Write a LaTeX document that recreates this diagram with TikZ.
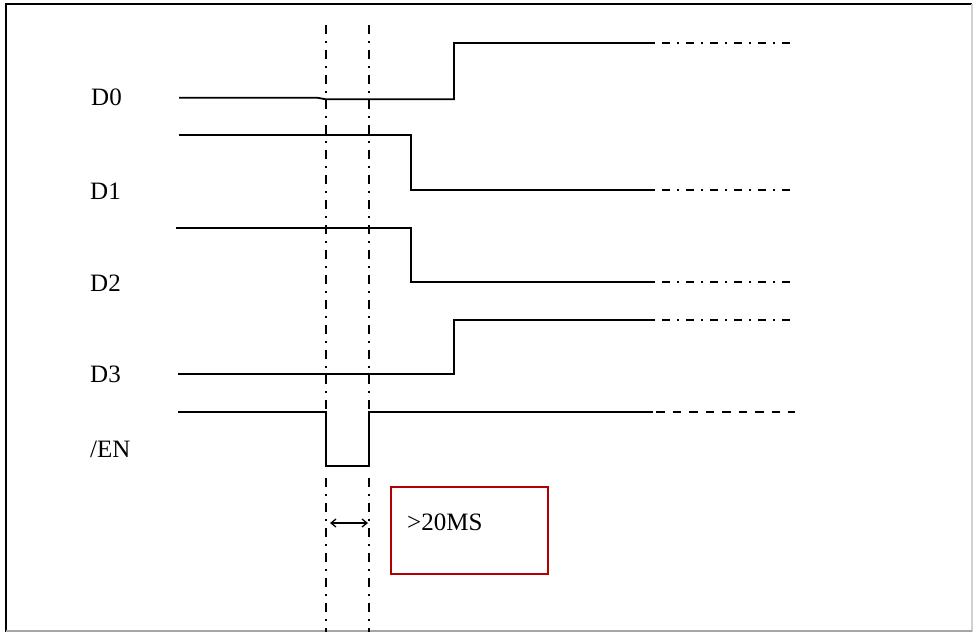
\documentclass[tikz,border=0pt]{standalone}
\usepackage{fontspec}
\setmainfont{Liberation Serif}
\usetikzlibrary{arrows.meta}
\begin{document}
\begin{tikzpicture}[x=1pt,y=-1pt,
  sig/.style={line width=1.8pt, line join=miter},
  tailsig/.style={line width=1.8pt, dash pattern=on 8pt off 7pt on 2pt off 7pt, dash phase=-9pt},
  tailen/.style={line width=1.8pt, dash pattern=on 8.5pt off 8pt, dash phase=-3pt},
  guide/.style={line width=1.6pt, dash pattern=on 9pt off 7pt on 2pt off 7pt},
  lbl/.style={inner sep=0pt, anchor=base west, font=\fontsize{25}{30}\selectfont},
  redbox/.style={draw=red!70!black, line width=1.6pt}]
\useasboundingbox (0,0) rectangle (975,632);
\fill[white] (0,0) rectangle (975,632);
% frame
\draw[line width=2.2pt] (6,632) -- (6,4) -- (972,4);
\draw[line width=1.5pt, gray!35] (972,4) -- (972,632);
\draw[line width=2pt, gray!70] (6,631) -- (972,631);
% labels
\node[lbl] (lD0) at (91,105) {D0};
\node[lbl] (lD1) at (90,199) {D1};
\node[lbl] (lD2) at (90,291) {D2};
\node[lbl] (lD3) at (90,382) {D3};
\node[lbl] (lEN) at (90,457) {/EN};
% guides
\draw[guide] (326,25) -- (326,411);
\draw[guide] (369,25) -- (369,411);
\draw[guide] (326,478) -- (326,632);
\draw[guide] (369,478) -- (369,632);
% signals
\draw[sig] (179,97.7) -- (317,97.7) -- (326,99.3) -- (454,99.3) -- (454,43) -- (653,43);
\draw[tailsig] (653,43) -- (795,43);
\draw[sig] (179,135) -- (411,135) -- (411,190) -- (653,190);
\draw[tailsig] (653,190) -- (795,190);
\draw[sig] (176,228) -- (411,228) -- (411,282) -- (653,282);
\draw[tailsig] (653,282) -- (795,282);
\draw[sig] (178,374) -- (454,374) -- (454,320) -- (653,320);
\draw[tailsig] (653,320) -- (795,320);
\draw[sig] (178,412) -- (326,412) -- (326,466) -- (369,466) -- (369,412) -- (653,412);
\draw[tailen] (653,412) -- (795,412);
% width arrow
\coordinate (aL) at (330,523);
\coordinate (aR) at (368,523);
\draw[line width=1.3pt, {Straight Barb[length=5pt,width=8pt]}-{Straight Barb[length=5pt,width=8pt]}] (aL) -- (aR);
% red box
\node[redbox, minimum width=157pt, minimum height=87pt, inner sep=0pt, anchor=north west] (box) at (390,486) {};
\node[lbl] (t20) at (407,530) {>20MS};
\end{tikzpicture}
\end{document}
